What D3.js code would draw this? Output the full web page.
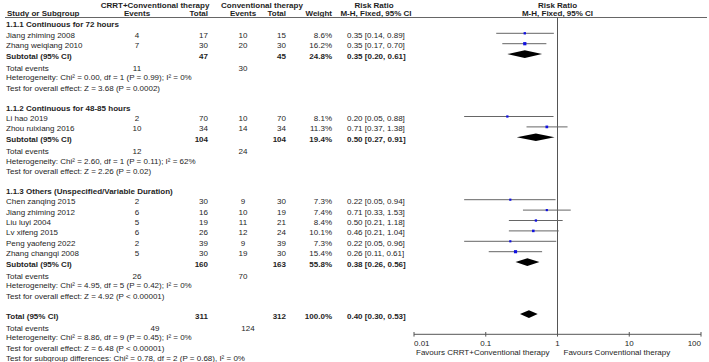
<!DOCTYPE html>
<html>
<head>
<meta charset="utf-8">
<script src="https://cdn.jsdelivr.net/npm/d3@7"></script>
<style>
	body { margin:0; background:#fff; }
	svg { display:block; font-family:"Liberation Sans", Arial, sans-serif; }
	.t { font-size:8px; fill:#1e1e1e; }
	.b { font-weight:bold; }
</style>
</head>
<body>
<div id="chart"></div>
<script>
//study level data
var groupTitles = ["1.1.1 Continuous for 72 hours","1.1.2 Continuous for 48-85 hours","1.1.3 Others (Unspecified/Variable Duration)"];
var studyNames = ["Jiang zhiming 2008","Zhang weiqiang 2010","Li hao 2019","Zhou ruixiang 2016","Chen zanqing 2015","Jiang zhiming 2012","Liu luyi 2004","Lv xifeng 2015","Peng yaofeng 2022","Zhang changqi 2008"];
var studyGroup = [0,0,1,1,2,2,2,2,2,2];
var expEvents = [4,7,2,10,2,6,5,6,2,5];
var expTotal = [17,30,70,34,30,16,19,26,39,30];
var ctlEvents = [10,20,10,14,9,10,11,12,9,19];
var ctlTotal = [15,30,70,34,30,19,21,24,39,30];
var weights = [8.6,16.2,8.1,11.3,7.3,7.4,8.4,10.1,7.3,15.4];
var rr = [0.35,0.35,0.20,0.71,0.22,0.71,0.50,0.46,0.22,0.26];
var rrLow = [0.14,0.17,0.05,0.37,0.05,0.33,0.21,0.21,0.05,0.11];
var rrHigh = [0.89,0.70,0.88,1.38,0.94,1.53,1.18,1.04,0.96,0.61];

//subgroup data
var subExpTotal = [47,104,160];
var subCtlTotal = [45,104,163];
var subWeight = [24.8,19.4,55.8];
var subRR = [0.35,0.50,0.38];
var subLow = [0.20,0.27,0.26];
var subHigh = [0.61,0.91,0.56];
var subExpEvents = [11,12,26];
var subCtlEvents = [30,24,70];
var subHet = ["Chi\u00b2 = 0.00, df = 1 (P = 0.99); I\u00b2 = 0%","Chi\u00b2 = 2.60, df = 1 (P = 0.11); I\u00b2 = 62%","Chi\u00b2 = 4.95, df = 5 (P = 0.42); I\u00b2 = 0%"];
var subZ = ["Z = 3.68 (P = 0.0002)","Z = 2.26 (P = 0.02)","Z = 4.92 (P < 0.00001)"];

//overall
var totalN = [311,312];
var totalWeight = 100.0;
var totalRR = [0.40,0.30,0.53];
var totalEvents = [49,124];
var totalHet = "Chi\u00b2 = 8.86, df = 9 (P = 0.45); I\u00b2 = 0%";
var totalZ = "Z = 6.48 (P < 0.00001)";
var subgroupDiff = "Chi\u00b2 = 0.78, df = 2 (P = 0.68), I\u00b2 = 0%";

var tickValues = [0.01,0.1,1,10,100];
var tickLabels = ["0.01","0.1","1","10","100"];
var favLeft = "Favours CRRT+Conventional therapy";
var favRight = "Favours Conventional therapy";

var W = 709, H = 362;
var rowH = 10.4, row0 = 22.9;
var axisY = 334.3;

//column positions
var colLabel = 6, colEv1 = 137, colTot1 = 208, colEv2 = 243, colTot2 = 286, colW = 332, colRR = 347;

var svg = d3.select("#chart").append("svg").attr("width",W).attr("height",H);

var x = d3.scaleLog().domain([0.01,100]).range([414,701]);
var sq = d3.scaleSqrt().domain([0,100]).range([0,8]);

function fmt2(v){ return d3.format(".2f")(v); }
function ciText(a,l,h){ return fmt2(a) + " [" + fmt2(l) + ", " + fmt2(h) + "]"; }

function txt(xp, y, s, anchor, bold){
	svg.append("text")
		.attr("class","t" + (bold ? " b" : ""))
		.attr("x",xp).attr("y",y)
		.attr("text-anchor",anchor || "start")
		.text(s);
}

//build the row list
var rows = [];
groupTitles.forEach(function(g,gi){
	rows.push({type:"head",g:gi});
	studyNames.forEach(function(n,i){
		if(studyGroup[i] == gi){ rows.push({type:"study",i:i}); }
	});
	rows.push({type:"sub",g:gi});
	rows.push({type:"events",a:subExpEvents[gi],b:subCtlEvents[gi]});
	rows.push({type:"note",s:"Heterogeneity: " + subHet[gi]});
	rows.push({type:"note",s:"Test for overall effect: " + subZ[gi]});
	rows.push({type:"blank"});
});
rows.push({type:"total"});
rows.push({type:"events",a:totalEvents[0],b:totalEvents[1],total:true});
rows.push({type:"note",s:"Heterogeneity: " + totalHet});
rows.push({type:"note",s:"Test for overall effect: " + totalZ});
rows.push({type:"note",s:"Test for subgroup differences: " + subgroupDiff});

//header
txt(155, 7.5, "CRRT+Conventional therapy", "middle", true);
txt(262, 7.5, "Conventional therapy", "middle", true);
txt(374, 7.5, "Risk Ratio", "middle", true);
txt(x(1), 7.5, "Risk Ratio", "middle", true);
txt(7, 15.5, "Study or Subgroup", "start", true);
txt(colEv1, 15.5, "Events", "middle", true);
txt(colTot1, 15.5, "Total", "end", true);
txt(colEv2, 15.5, "Events", "middle", true);
txt(colTot2, 15.5, "Total", "end", true);
txt(colW, 15.5, "Weight", "end", true);
txt(376, 15.5, "M-H, Fixed, 95% CI", "middle", true);
txt(x(1), 15.5, "M-H, Fixed, 95% CI", "middle", true);

svg.append("line").attr("x1",5).attr("x2",707).attr("y1",17.5).attr("y2",17.5)
	.attr("stroke","#666").attr("stroke-width",1);

//line of no effect
svg.append("line").attr("x1",x(1)).attr("x2",x(1)).attr("y1",17.5).attr("y2",axisY)
	.attr("stroke","#555").attr("stroke-width",1);

function diamond(y, est, lo, hi){
	var h = 3.8;
	var pts = [[x(lo),y],[x(est),y-h],[x(hi),y],[x(est),y+h]];
	svg.append("path").attr("d","M" + pts.join("L") + "Z").attr("fill","#000");
}

rows.forEach(function(r,k){
	var y = row0 + k * rowH;
	var ty = y + 4.5;
	if(r.type == "head"){
		txt(colLabel, ty, groupTitles[r.g], "start", true);
	}else if(r.type == "study"){
		var i = r.i;
		txt(colLabel, ty, studyNames[i]);
		txt(colEv1, ty, expEvents[i], "middle");
		txt(colTot1, ty, expTotal[i], "end");
		txt(colEv2, ty, ctlEvents[i], "middle");
		txt(colTot2, ty, ctlTotal[i], "end");
		txt(colW, ty, weights[i].toFixed(1) + "%", "end");
		txt(colRR, ty, ciText(rr[i],rrLow[i],rrHigh[i]));
		svg.append("line").attr("x1",x(rrLow[i])).attr("x2",x(rrHigh[i]))
			.attr("y1",y).attr("y2",y).attr("stroke","#666").attr("stroke-width",1);
		var s = sq(weights[i]);
		svg.append("rect").attr("x",x(rr[i]) - s/2).attr("y",y - s/2)
			.attr("width",s).attr("height",s).attr("fill","#1010e0");
	}else if(r.type == "sub"){
		var g = r.g;
		txt(colLabel, ty, "Subtotal (95% CI)", "start", true);
		txt(colTot1, ty, subExpTotal[g], "end", true);
		txt(colTot2, ty, subCtlTotal[g], "end", true);
		txt(colW, ty, subWeight[g].toFixed(1) + "%", "end", true);
		txt(colRR, ty, ciText(subRR[g],subLow[g],subHigh[g]), "start", true);
		diamond(y, subRR[g], subLow[g], subHigh[g]);
	}else if(r.type == "events"){
		txt(colLabel, ty + 1.5, "Total events");
		txt(r.total ? 155 : colEv1, ty + 1.5, r.a, "middle");
		txt(r.total ? 248 : colEv2, ty + 1.5, r.b, "middle");
	}else if(r.type == "note"){
		txt(colLabel, ty + 1, r.s);
	}else if(r.type == "total"){
		txt(colLabel, ty, "Total (95% CI)", "start", true);
		txt(colTot1, ty, totalN[0], "end", true);
		txt(colTot2, ty, totalN[1], "end", true);
		txt(colW, ty, totalWeight.toFixed(1) + "%", "end", true);
		txt(colRR, ty, ciText(totalRR[0],totalRR[1],totalRR[2]), "start", true);
		diamond(y, totalRR[0], totalRR[1], totalRR[2]);
	}
});

//log axis
var ax = svg.append("g");
ax.append("line").attr("x1",x(0.01)).attr("x2",x(100)).attr("y1",axisY).attr("y2",axisY)
	.attr("stroke","#555").attr("stroke-width",1);
tickValues.forEach(function(v,i){
	ax.append("line").attr("x1",x(v)).attr("x2",x(v)).attr("y1",axisY - 2.3).attr("y2",axisY + 2.3)
		.attr("stroke","#555").attr("stroke-width",1);
	var anchor = i == 0 ? "start" : (i == tickValues.length - 1 ? "end" : "middle");
	txt(x(v), axisY + 11.5, tickLabels[i], anchor);
});
txt(x(1) - 8, axisY + 21, favLeft, "end");
txt(x(1) + 6, axisY + 21, favRight, "start");
</script>
</body>
</html>
